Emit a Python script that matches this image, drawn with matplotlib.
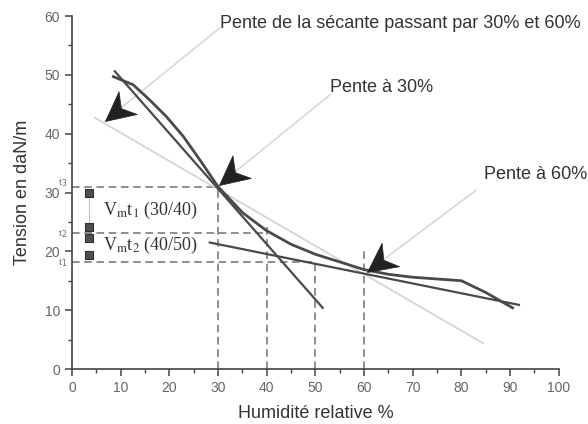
import numpy as np
import matplotlib
matplotlib.use("Agg")
import matplotlib.pyplot as plt
from matplotlib.markers import MarkerStyle
from matplotlib.path import Path
from matplotlib.transforms import Affine2D

plt.rcParams['font.family'] = ['Liberation Sans', 'DejaVu Sans']

# Courbe mesurée : tension en fonction de l'humidité relative
humidite = [8.5, 12.6, 16, 19.4, 22.9, 26.3, 30, 35, 40, 45, 50, 55, 60, 65, 70, 75, 80, 85, 90.5]
tension = [49.7, 48.3, 45.7, 42.9, 39.5, 35.5, 31.0, 26.6, 23.5, 21.2, 19.5, 18.2, 16.9, 16.1, 15.6, 15.3, 15.0, 13.0, 10.4]

# Pentes (tangentes) et sécante, extrémités
pente30_x = [8.8, 51.5]
pente30_y = [50.6, 10.4]
pente60_x = [28.3, 91.8]
pente60_y = [21.5, 10.9]
secante_x = [4.7, 84.4]
secante_y = [42.7, 4.4]

# Repères en pointillés (humidité, tension)
reperes_h = [30, 40, 50]
reperes_t = [31.0, 23.1, 18.2]
haut_verticales = [31.0, 24.8, 18.2, 20.8]
verticales_x = [30, 40, 50, 60]
noms_t = ['t$_3$', 't$_2$', 't$_1$']
noms_t_y = [31.6, 23.0, 18.0]

# Petits carrés près de l'axe
carres_x = [3.5, 3.5, 3.5, 3.5]
carres_y = [29.9, 24.1, 22.3, 19.4]

# Annotations : texte, position du texte, départ du trait, pointe de la flèche
annot_textes = ['Pente de la sécante passant par 30% et 60%', 'Pente à 30%', 'Pente à 60%']
annot_pos = [(30.4, 58.8), (53.0, 47.8), (84.6, 33.0)]
annot_depart = [(30.4, 58.0), (53.0, 46.6), (83.0, 30.4)]
annot_pointe = [(6.8, 42.2), (30.2, 31.3), (60.6, 16.5)]

fig = plt.figure(figsize=(5.88, 4.24), dpi=100)
ax = fig.add_axes([0.1224, 0.1297, 0.828, 0.8325])

fonce = '#4a4a4a'
clair = '#d2d2d2'
tirets = '#707070'

# pointillés
for h, t in zip(reperes_h, reperes_t):
    ax.plot([0, h], [t, t], ls=(0, (5, 3)), color=tirets, lw=1.1, zorder=2)
for x, top in zip(verticales_x, haut_verticales):
    ax.plot([x, x], [0, top], ls=(0, (5, 3)), color=tirets, lw=1.1, zorder=2)

ax.plot(secante_x, secante_y, color=clair, lw=1.2, zorder=3)
ax.plot(pente30_x, pente30_y, color=fonce, lw=1.6, zorder=4)
ax.plot(pente60_x, pente60_y, color=fonce, lw=1.6, zorder=4)
ax.plot(humidite, tension, color=fonce, lw=2.0, zorder=5)

# carrés
ax.plot([carres_x[0], carres_x[1]], [carres_y[0], carres_y[1]], color='#c8c8c8', lw=0.8, zorder=3)
ax.scatter(carres_x, carres_y, marker='s', s=36, color='#4f4f4f', edgecolors='#2f2f2f',
           linewidths=0.8, zorder=6)

ax.text(6.4, 27.0, r'V$_{\mathrm{m}}$t$_1$ (30/40)', family='Liberation Serif',
        fontsize=13, color='#333333', va='center', ha='left', math_fontfamily='stix')
ax.text(6.4, 21.0, r'V$_{\mathrm{m}}$t$_2$ (40/50)', family='Liberation Serif',
        fontsize=13, color='#333333', va='center', ha='left', math_fontfamily='stix')

for nom, t in zip(noms_t, noms_t_y):
    ax.text(-0.9, t, nom, family='Liberation Serif', fontsize=8, color='#666666',
            ha='right', va='center', clip_on=False)

# pointe de flèche en forme de dard
dard = Path([(0, 0), (-1, 0.5), (-0.7, 0), (-1, -0.5), (0, 0)],
            [Path.MOVETO, Path.LINETO, Path.LINETO, Path.LINETO, Path.CLOSEPOLY])

# annotations
for txt, pos, dep, pt in zip(annot_textes, annot_pos, annot_depart, annot_pointe):
    ax.text(pos[0], pos[1], txt, fontsize=13, color='#333333', ha='left', va='center')
    ax.plot([dep[0], pt[0]], [dep[1], pt[1]], color=clair, lw=1.0, zorder=3)
    dx = (pt[0] - dep[0]) * 4.87
    dy = (pt[1] - dep[1]) * 5.88
    angle = np.degrees(np.arctan2(dy, dx))
    m = MarkerStyle(dard, transform=Affine2D().rotate_deg(angle))
    ax.plot([pt[0]], [pt[1]], marker=m, markersize=42, color='#222222',
            markeredgewidth=0.5, ls='none', zorder=7)

ax.set_xlim(0, 100)
ax.set_ylim(0, 60)
ax.set_xticks(np.arange(0, 101, 10))
ax.set_yticks(np.arange(0, 61, 10))
ax.set_xticks(np.arange(5, 100, 10), minor=True)
ax.set_yticks(np.arange(5, 60, 10), minor=True)
for s in ['top', 'right']:
    ax.spines[s].set_visible(False)
for s in ['left', 'bottom']:
    ax.spines[s].set_color('#444444')
    ax.spines[s].set_linewidth(1.2)
ax.tick_params(which='major', direction='out', length=5, width=1.1, color='#444444',
               labelsize=10, labelcolor='#666666')
ax.tick_params(which='minor', direction='out', length=3, width=1.0, color='#444444')

ax.set_xlabel('Humidité relative %', fontsize=13, color='#333333', labelpad=7)
ax.set_ylabel('Tension en daN/m', fontsize=13, color='#333333', labelpad=10)

fig.savefig('out.png', dpi=100)
